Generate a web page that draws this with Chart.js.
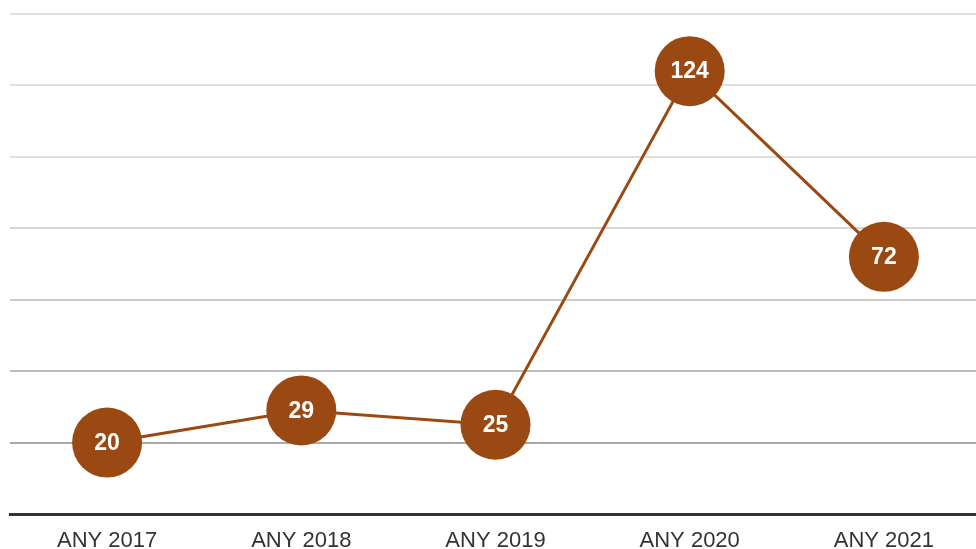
<!DOCTYPE html>
<html>
<head>
<meta charset="utf-8">
<script src="https://cdn.jsdelivr.net/npm/chart.js@4/dist/chart.umd.min.js"></script>
<style>
    html, body { margin: 0; padding: 0; background: #fff; overflow: hidden; }
    #wrap { position: relative; width: 981px; height: 549px; }
</style>
</head>
<body>
<div id="wrap"><canvas id="chart"></canvas></div>
<script>
// Chart data
const years = ['ANY 2017', 'ANY 2018', 'ANY 2019', 'ANY 2020', 'ANY 2021'];
const counts = [20, 29, 25, 124, 72];
const yTicks = [0, 20, 40, 60, 80, 100, 120, 140];

const brown = '#9a4913';

// Gridlines get lighter toward the top
function gridColor(ctx) {
    const v = ctx.tick ? ctx.tick.value : 0;
    if (v === 0) return 'rgba(0,0,0,0)';
    if (v <= 20) return '#a9a9a9';
    if (v <= 40) return '#bdbdbd';
    if (v <= 60) return '#cdcdcd';
    if (v <= 80) return '#d6d6d6';
    return '#e0e0e0';
}

// Draw the value inside each point
const valueLabels = {
    id: 'valueLabels',
    afterDatasetsDraw(chart) {
        const ctx = chart.ctx;
        const meta = chart.getDatasetMeta(0);
        ctx.save();
        ctx.fillStyle = '#ffffff';
        ctx.font = 'bold 23px "Liberation Sans", Arial, sans-serif';
        ctx.textAlign = 'center';
        ctx.textBaseline = 'middle';
        meta.data.forEach((pt, i) => {
            ctx.fillText(String(counts[i]), pt.x, pt.y + 1);
        });
        ctx.restore();
    }
};

new Chart(document.getElementById('chart').getContext('2d'), {
    type: 'line',
    data: {
        labels: years,
        datasets: [{
            data: counts,
            borderColor: brown,
            borderWidth: 3,
            backgroundColor: brown,
            pointBackgroundColor: brown,
            pointBorderColor: brown,
            pointBorderWidth: 0,
            pointRadius: 35,
            pointHoverRadius: 35,
            tension: 0,
            clip: false
        }]
    },
    options: {
        responsive: true,
        maintainAspectRatio: false,
        animation: false,
        layout: {
            autoPadding: false,
            padding: { left: 10, right: 0, top: 14, bottom: 0 }
        },
        plugins: {
            legend: { display: false },
            tooltip: { enabled: false }
        },
        scales: {
            x: {
                offset: true,
                afterFit: function(axis) {
                    axis.height = 35;
                },
                grid: { display: false, drawTicks: false },
                border: { display: true, color: '#333333', width: 3 },
                ticks: {
                    color: '#333333',
                    padding: 14,
                    font: { family: '"Liberation Sans", Arial, sans-serif', size: 22 }
                }
            },
            y: {
                min: 0,
                max: 140,
                afterBuildTicks: function(axis) {
                    axis.ticks = yTicks.map(v => ({ value: v }));
                },
                grid: { color: gridColor, lineWidth: 2, drawTicks: false },
                border: { display: false },
                ticks: { display: false }
            }
        }
    },
    plugins: [valueLabels]
});
</script>
</body>
</html>
